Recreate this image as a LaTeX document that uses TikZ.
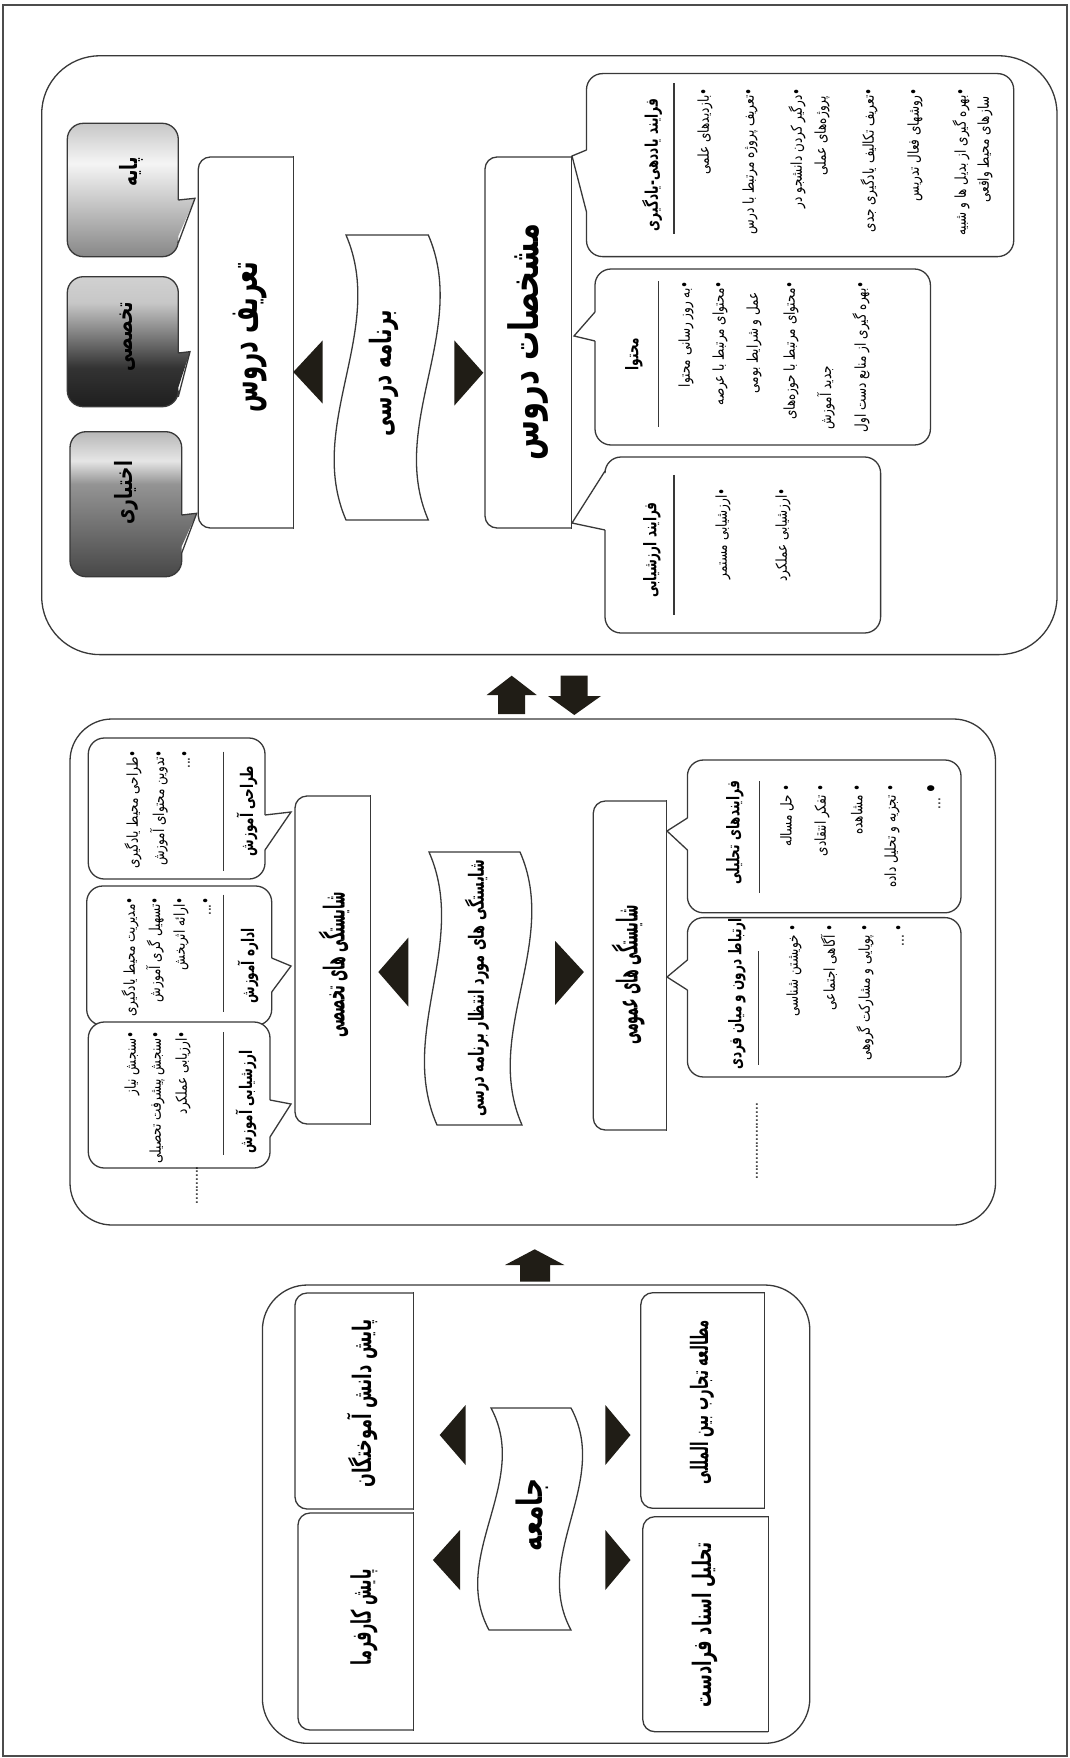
\documentclass[tikz,border=0pt]{standalone}
\usepackage{graphicx}
\usepackage{fontspec}
\newfontfamily\fa[Script=Arabic]{DejaVu Sans}
\TeXXeTstate=1
\definecolor{tri}{RGB}{32,29,22}
\pgfdeclareverticalshading{gA}{100bp}{color(0bp)=(black!47); color(25bp)=(black!47); color(60bp)=(black!4); color(75bp)=(black!22); color(100bp)=(black!22)}
\pgfdeclareverticalshading{gB}{100bp}{color(0bp)=(black!88); color(25bp)=(black!88); color(40bp)=(black!80); color(65bp)=(black!22); color(75bp)=(black!18); color(100bp)=(black!18)}
\pgfdeclareverticalshading{gC}{100bp}{color(0bp)=(black!72); color(25bp)=(black!72); color(57bp)=(black!42); color(65bp)=(black!10); color(75bp)=(black!28); color(100bp)=(black!28)}
\newcommand\Tsz[1]{\fa\bfseries\fontsize{#1}{#1}\selectfont}
% title text: size, horizontal scale, vertical scale, text
\newcommand\Tt[4]{\Tsz{#1}\scalebox{#2}[#3]{#4}}
% bullet text
\newcommand\Bt[1]{\scalebox{1}[1.25]{#1}}
% header text
\newcommand\Ht[1]{\scalebox{1}[1.45]{#1}}
% callout, pointer on right side
\newcommand\coR[9]{%
  \path[#1, rounded corners=16] (#2,#3) -- (#4,#3) -- (#4,#5) -- (#2,#5) -- cycle
     [sharp corners] ({#4-3},#6) -- (#8,#9) -- ({#4-3},#7) -- cycle;
  \draw[ln, rounded corners=16] (#4,#7) -- (#4,#5) -- (#2,#5) -- (#2,#3) -- (#4,#3) -- (#4,#6);
  \draw[ln] (#4,#6) -- (#8,#9) -- (#4,#7);}
% callout, pointer on left side
\newcommand\coL[9]{%
  \path[#1, rounded corners=16] (#2,#3) -- (#4,#3) -- (#4,#5) -- (#2,#5) -- cycle
     [sharp corners] ({#2+3},#7) -- (#8,#9) -- ({#2+3},#6) -- cycle;
  \draw[ln, rounded corners=16] (#2,#6) -- (#2,#3) -- (#4,#3) -- (#4,#5) -- (#2,#5) -- (#2,#7);
  \draw[ln] (#2,#6) -- (#8,#9) -- (#2,#7);}
% box with rounded left corners
\newcommand\lbox[4]{%
  \draw[ln, rounded corners=12] (#3,#4) -- (#1,#4) -- (#1,#2) -- (#3,#2);
  \draw[ln, line cap=rect] (#3,#2) -- (#3,#4);}
% wavy banner: x1t x2t yt x1b x2b yb amplitude
\newcommand\wave[7]{%
  \draw[ln, fill=white] (#1,#3) -- (#2,#3)
    .. controls ({#2+#7},{#3+(#6-#3)/3}) and ({#5-#7},{#3+2*(#6-#3)/3}) .. (#5,#6)
    -- (#4,#6)
    .. controls ({#4-#7},{#3+2*(#6-#3)/3}) and ({#1+#7},{#3+(#6-#3)/3}) .. (#1,#3) -- cycle;}
\begin{document}
\begin{tikzpicture}[x=1pt,y=-1pt,
  ln/.style={line width=1.3pt, draw=black!78},
  bl/.style={rotate=90, anchor=east, inner sep=0pt, font=\fa\fontsize{12}{14}\selectfont},
  hd/.style={rotate=90, inner sep=0pt, font=\Tsz{12}},
  ttl/.style={rotate=90, inner sep=0pt}]
\useasboundingbox (0,0) rectangle (1069,1758);
\fill[white] (0,0) rectangle (1069,1758);
\draw[line width=1.2pt, draw=black!70] (3,5) rectangle (1067,1756);

% ===== panel 1 =====
\draw[ln, rounded corners=58] (41.7,55.8) rectangle (1057,654.6);
\coR{shade,shading=gA}{67.3}{123.3}{178.3}{256.7}{200}{243}{195}{198.3}
\coR{shade,shading=gB}{67.3}{276.7}{178.3}{406.7}{353}{396.7}{190}{351.7}
\coR{shade,shading=gC}{70}{431.7}{181.7}{576.7}{515}{553}{196.7}{513.3}
\node[ttl] (pay) at (131,172) {\Tt{17}{1}{1.4}{\beginR پایه\endR}};
\node[ttl] (tak) at (128,337) {\Tt{17}{1}{1.4}{\beginR تخصصی\endR}};
\node[ttl] (ekh) at (126,493) {\Tt{17}{1}{1.4}{\beginR اختیاری\endR}};

\lbox{198.3}{157}{293.3}{528}
\node[ttl] (tarif) at (250,337) {\Tt{26}{0.88}{1.5}{\beginR تعریف دروس\endR}};
\fill[tri] (293.3,372) -- (322.7,340.4) -- (322.7,403.6) -- cycle;
\wave{346}{428.3}{235}{346}{428.3}{520}{41}
\node[ttl] (barn) at (384,373) {\Tt{21}{0.94}{1.4}{\beginR برنامه درسی\endR}};
\fill[tri] (483.3,372.8) -- (454.3,340.4) -- (454.3,405.6) -- cycle;
\lbox{485}{157}{571.8}{528}
\node[ttl] (mosh) at (528,342) {\Tt{29}{1}{1.4}{\beginR مشخصات دروس\endR}};

\coL{fill=white}{586.5}{73.6}{1013.7}{256.6}{150}{212}{572}{156}
\node[hd] (hY) at (652,165) {\Ht{\beginR فرایند یاددهی-یادگیری\endR}};
\draw[ln] (674,83.5) -- (674,233.7);
\node[bl] (y1) at (705,88) {\Bt{\beginR •بازدیدهای علمی\endR}};
\node[bl] (y2) at (750,88) {\Bt{\beginR •تعریف پروژه مرتبط با درس\endR}};
\node[bl] (y3) at (797,88) {\Bt{\beginR •درگیر کردن دانشجو در\endR}};
\node[bl] (y3b) at (822,96) {\Bt{\beginR پروژه‌های عملی\endR}};
\node[bl] (y4) at (869,88) {\Bt{\beginR •تعریف تکالیف یادگیری جدی\endR}};
\node[bl] (y5) at (915,88) {\Bt{\beginR •روشهای فعال تدریس\endR}};
\node[bl] (y6) at (961,88) {\Bt{\beginR •بهره گیری از بدیل ها و شبیه\endR}};
\node[bl] (y6b) at (985,96) {\Bt{\beginR سازهای محیط واقعی\endR}};

\coL{fill=white}{595}{269}{930.4}{445}{312}{341}{574}{336}
\node[hd] (hM) at (634,354) {\Ht{\beginR محتوا\endR}};
\draw[ln] (658.3,281) -- (658.3,427);
\node[bl] (m1) at (686,281) {\Bt{\beginR •به روز رسانی محتوا\endR}};
\node[bl] (m2) at (720,281) {\Bt{\beginR •محتوای مرتبط با عرصه\endR}};
\node[bl] (m2b) at (754,292) {\Bt{\beginR عمل و شرایط بومی\endR}};
\node[bl] (m3) at (791,281) {\Bt{\beginR •محتوای مرتبط با حوزه‌های\endR}};
\node[bl] (m3b) at (826,366) {\Bt{\beginR جدید آموزش\endR}};
\node[bl] (m4) at (861,281) {\Bt{\beginR •بهره گیری از منابع دست اول\endR}};

\coL{fill=white}{605}{457}{880.6}{633}{471}{530}{572}{523}
\node[hd] (hE) at (652,550) {\Ht{\beginR فرایند ارزشیابی\endR}};
\draw[ln] (674,474.8) -- (674,615);
\node[bl] (e1) at (723,488) {\Bt{\beginR •ارزشیابی مستمر\endR}};
\node[bl] (e2) at (783,488) {\Bt{\beginR •ارزشیابی عملکرد\endR}};

% arrows between panel 1 and 2
\fill[tri] (498,714) -- (498,695) -- (486.7,695) -- (511.7,675.7) -- (536.7,695) -- (525,695) -- (525,714) -- cycle;
\fill[tri] (560.7,675.7) -- (587.7,675.7) -- (587.7,696) -- (601,696) -- (574.3,715) -- (548,696) -- (560.7,696) -- cycle;

% ===== panel 2 =====
\draw[ln, rounded corners=42] (70,719) rectangle (995.5,1225);
\coR{fill=white}{88.3}{738}{265}{879}{815}{850}{291}{812}
\node[hd] (hT) at (247,811) {\Ht{\beginR طراحی آموزش\endR}};
\draw[ln] (223.3,751.6) -- (223.3,870.5);
\node[bl] (t1) at (133,750) {\Bt{\beginR •طراحی محیط یادگیری\endR}};
\node[bl] (t2) at (159,750) {\Bt{\beginR •تدوین محتوای آموزش\endR}};
\node[bl] (t3) at (186,750) {\Bt{\beginR •...\endR}};

\coR{fill=white}{86.7}{886}{271.7}{1025.4}{958}{992}{291}{966}
\node[hd] (hA) at (248,966) {\Ht{\beginR اداره آموزش\endR}};
\draw[ln] (223.3,894.6) -- (223.3,1011.6);
\node[bl] (a1) at (130,897) {\Bt{\beginR •مدیریت محیط یادگیری\endR}};
\node[bl] (a2) at (155,897) {\Bt{\beginR •تسهیل گری آموزش\endR}};
\node[bl] (a3) at (181,897) {\Bt{\beginR •ارائه اثربخش\endR}};
\node[bl] (a4) at (207,897) {\Bt{\beginR •...\endR}};

\coR{fill=white}{88.3}{1022}{270}{1168}{1100}{1137}{291}{1104}
\node[hd] (hZ) at (246,1102) {\Ht{\beginR ارزشیابی آموزش\endR}};
\draw[ln] (223.3,1032) -- (223.3,1154.6);
\node[bl] (z1) at (132,1031) {\Bt{\beginR •سنجش نیاز\endR}};
\node[bl] (z2) at (157,1031) {\Bt{\beginR •سنجش پیشرفت تحصیلی\endR}};
\node[bl] (z3) at (183,1031) {\Bt{\beginR •ارزیابی عملکرد\endR}};
\node[bl] (dl) at (197,1166) {\Bt{..........}};

\lbox{295}{796}{370.7}{1124}
\node[ttl] (shT) at (334,965) {\Tt{18}{0.7}{1.6}{\beginR شایستگی های تخصصی\endR}};
\fill[tri] (378.3,972) -- (408.3,937.6) -- (408.3,1006.5) -- cycle;
\wave{429}{520}{852}{437}{522}{1125}{40}
\node[ttl] (shM) at (477,988) {\Tt{15}{0.86}{1.4}{\beginR شایستگی های مورد انتظار برنامه درسی\endR}};
\fill[tri] (583.9,972) -- (555.2,941) -- (555.2,1004.8) -- cycle;
\lbox{593.3}{801}{666.5}{1130}
\node[ttl] (shO) at (628,975) {\Tt{18}{0.7}{1.6}{\beginR شایستگی های عمومی\endR}};

\coL{fill=white}{687.4}{760}{961}{912.8}{818}{850}{667}{831}
\node[hd] (hF) at (735,833) {\Ht{\beginR فرایندهای تحلیلی\endR}};
\draw[ln] (759.3,781) -- (759.3,892.8);
\node[bl] (f1) at (787,784) {\Bt{\beginR • حل مساله\endR}};
\node[bl] (f2) at (822,784) {\Bt{\beginR • تفکر انتقادی\endR}};
\node[bl] (f3) at (857,784) {\Bt{\beginR • مشاهده\endR}};
\node[bl] (f4) at (892,784) {\Bt{\beginR • تجزیه و تحلیل داده\endR}};
\node[bl] (f5) at (934,782) {\Bt{\beginR {\fontsize{20}{20}\selectfont •} ...\endR}};

\coL{fill=white}{687.4}{917.6}{961}{1077}{960}{990}{667}{977}
\node[hd] (hR) at (737,994) {\Ht{\beginR ارتباط درون و میان فردی\endR}};
\draw[ln] (758.6,951) -- (758.6,1065);
\node[bl] (r1) at (794,924) {\Bt{\beginR • خویشتن شناسی\endR}};
\node[bl] (r2) at (829,924) {\Bt{\beginR • آگاهی اجتماعی\endR}};
\node[bl] (r3) at (865,924) {\Bt{\beginR • پویایی و مشارکت گروهی\endR}};
\node[bl] (r4) at (900,924) {\Bt{\beginR • ...\endR}};
\node[bl] (dr) at (757,1103) {\Bt{....................}};

% arrow between panel 2 and 3
\fill[tri] (520,1281.7) -- (520,1265) -- (505,1265) -- (534.7,1249.3) -- (564.3,1265) -- (550,1265) -- (550,1281.7) -- cycle;

% ===== panel 3 =====
\draw[ln, rounded corners=45] (262.4,1285) rectangle (809.8,1743.3);
\lbox{295}{1293}{413.8}{1509}
\node[ttl] (p1) at (362,1403) {\Tt{17}{0.95}{1.5}{\beginR پایش دانش آموختگان\endR}};
\lbox{298}{1513}{413.8}{1730}
\node[ttl] (p2) at (364,1617) {\Tt{18}{0.8}{1.5}{\beginR پایش کارفرما\endR}};
\lbox{640.8}{1292.7}{764.8}{1508.3}
\node[ttl] (p3) at (702,1402) {\Tt{16}{0.82}{1.5}{\beginR مطالعه تجارب بین المللی\endR}};
\lbox{642.8}{1516.7}{768.2}{1731.7}
\node[ttl] (p4) at (705,1625) {\Tt{17}{0.94}{1.5}{\beginR تحلیل اسناد فرادست\endR}};
\fill[tri] (439.7,1435) -- (465.6,1405) -- (465.6,1465) -- cycle;
\fill[tri] (432.9,1560) -- (460,1530) -- (460,1590) -- cycle;
\fill[tri] (630.5,1435) -- (605.3,1405) -- (605.3,1465) -- cycle;
\fill[tri] (630.5,1560) -- (605.3,1530) -- (605.3,1590) -- cycle;
\wave{491}{571}{1408}{489}{571}{1630}{40}
\node[ttl] (jam) at (532,1515) {\Tt{25}{1}{1.4}{\beginR جامعه\endR}};
\end{tikzpicture}
\end{document}
